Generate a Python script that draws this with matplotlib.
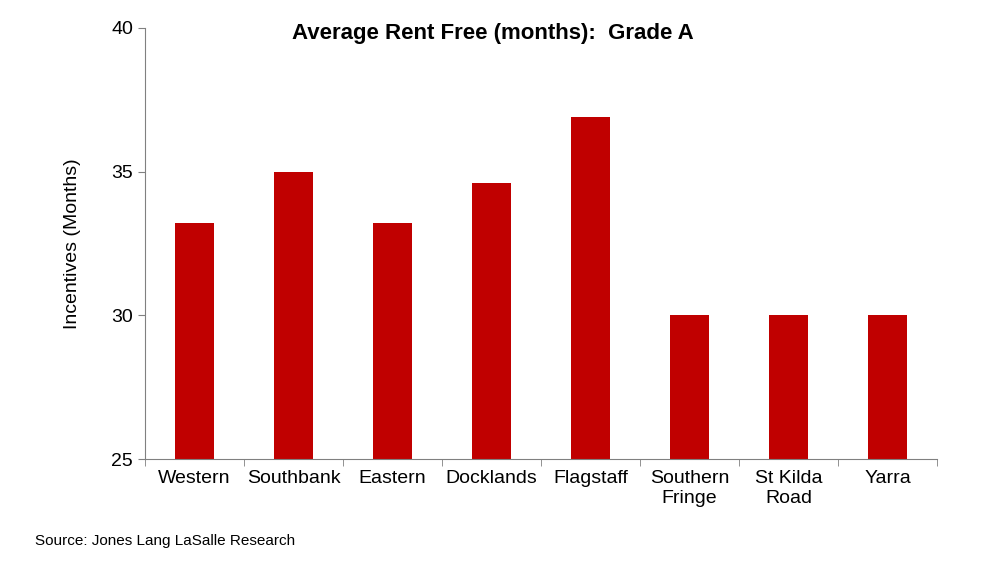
import matplotlib
matplotlib.use("Agg")
import matplotlib.pyplot as plt
import numpy as np

plt.rcParams["font.family"] = ["Liberation Sans Narrow", "Liberation Sans", "DejaVu Sans"]

regions = ["Western", "Southbank", "Eastern", "Docklands", "Flagstaff",
           "Southern\nFringe", "St Kilda\nRoad", "Yarra"]
rent_free = [33.2, 35.0, 33.2, 34.6, 36.9, 30.0, 30.0, 30.0]

fig = plt.figure(figsize=(9.86, 5.76), dpi=100)
ax = fig.add_axes([145 / 986, 1 - 459 / 576, (937 - 145) / 986, (459 - 28) / 576])

x = np.arange(len(regions))
ax.bar(x, np.array(rent_free) - 25, bottom=25, width=0.4, color="#C00000")

ax.set_ylim(25, 40)
ax.set_xlim(-0.5, len(regions) - 0.5)
ax.set_yticks([25, 30, 35, 40])
ax.tick_params(axis="y", labelsize=14, direction="out", length=5)
ax.set_xticks(x)
ax.set_xticklabels(regions, fontsize=14, va="top")
ax.tick_params(axis="x", length=0, pad=8)
ax.set_xticks(np.arange(-0.5, len(regions)), minor=True)
ax.tick_params(axis="x", which="minor", length=5, direction="out")
for s in ["top", "right"]:
    ax.spines[s].set_visible(False)
for s in ["left", "bottom"]:
    ax.spines[s].set_color("#808080")
ax.tick_params(axis="both", which="both", color="#808080")

ax.set_ylabel("Incentives (Months)", fontsize=14, labelpad=22)
fig.text(0.5, 1 - 33 / 576, "Average Rent Free (months):  Grade A", ha="center",
         va="center", fontsize=16, fontweight="bold")
fig.text(35 / 986, 1 - 541 / 576, "Source: Jones Lang LaSalle Research", fontsize=11,
         va="center")

fig.savefig("out.png", dpi=100)
